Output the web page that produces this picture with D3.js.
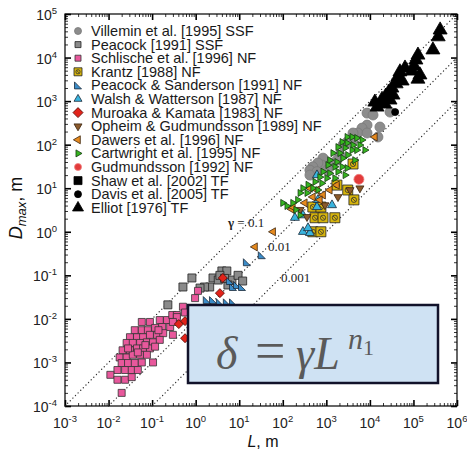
<!DOCTYPE html>
<html>
<head>
<meta charset="utf-8">
<script src="https://cdn.jsdelivr.net/npm/d3@7"></script>
<style>
  body { margin: 0; background: #fff; }
  text { font-family: "Liberation Sans", Arial, sans-serif; }
  text.serif, text.serif tspan { font-family: "Liberation Serif", "DejaVu Serif", serif; }
  tspan.sans { font-family: "Liberation Sans", Arial, sans-serif; }
</style>
</head>
<body>
<div id="chart"></div>
<script>
// fault data as [L, Dmax] in metres
var villemin = [[8600,530],[11800,480],[29000,560],[17000,254],[8600,282],[6600,240],[5300,185],[8600,185],
  [4100,185],[15300,150],[4100,128],[3000,115],[2400,98],[2050,58],[1750,44],[1200,38],[840,49],[790,34],
  [640,38],[490,31],[420,26],[610,24],[1050,26],[420,20]];
var peacock = [[0.82,0.087],[0.51,0.054],[0.23,0.021],[2.5,0.087],[4.0,0.126],[5.2,0.126],[6.8,0.078],
  [9.4,0.1],[5.5,0.06],[2.1,0.054],[1.6,0.054],[1.26,0.051],[3.3,0.078],[12,0.074],[3.6,0.1],[4.6,0.085]];
var schlische = [[0.058,0.0085],[0.089,0.0085],[0.15,0.0094],[0.22,0.0094],[0.29,0.0123],[0.37,0.0123],
  [0.51,0.019],[0.57,0.014],[0.040,0.0055],[0.058,0.0055],[0.080,0.0055],[0.117,0.0062],[0.17,0.0065],
  [0.26,0.0065],[0.031,0.0038],[0.045,0.0038],[0.062,0.0038],[0.089,0.0043],[0.13,0.0043],[0.18,0.0047],
  [0.30,0.0043],[0.026,0.0028],[0.036,0.0028],[0.053,0.0028],[0.076,0.0029],[0.105,0.0029],[0.15,0.0033],
  [0.021,0.0019],[0.031,0.0019],[0.045,0.0021],[0.062,0.0021],[0.089,0.0021],[0.117,0.0023],[0.018,0.0013],
  [0.026,0.0013],[0.036,0.0015],[0.053,0.0015],[0.076,0.0015],[0.105,0.001],[0.020,0.00097],[0.028,0.00097],
  [0.040,0.00097],[0.058,0.001],[0.016,0.00067],[0.024,0.00067],[0.034,0.00067],[0.047,0.00067],
  [0.011,0.00052],[0.016,0.0004],[0.024,0.0004],[0.034,0.00046],[0.020,0.0002],[1.13,0.044],[0.97,0.030],
  [0.37,0.011],[0.30,0.0085],[0.07,0.0025],[0.047,0.0017],[0.028,0.0021],[0.14,0.0055]];
var krantz = [[4100,36],[1750,11.8],[3100,9.1],[4300,5.4],[490,3.7],[750,3.7],[550,2.1],[840,2.1],
  [1570,2.1],[490,1.0],[750,1.0]];
var peacockSanderson = [[15,0.2],[33,0.29],[7.2,0.054],[8.9,0.06],[11.6,0.054],[2.5,0.027],[3.6,0.024],
  [5.2,0.024],[7.2,0.024],[1.8,0.027],[6.1,0.074]];
var walsh = [[610,3.7],[190,2.1],[290,1.0],[420,0.94],[380,1.22],[1350,4.1],[290,2.4],[610,20],[640,5.4]];
var muroaka = [[4.2,0.087],[3.6,0.039],[0.57,0.0089],[0.41,0.0076],[0.57,0.0036]];
var opheim = [[5900,10],[3500,9.1],[360,2.2],[250,3.2],[930,4.1],[1850,6.3]];
var dawers = [[13000,150],[60,1.0],[23,0.45],[160,3.3],[420,10],[610,9.1],[840,7.0],[1200,9.1],
  [1750,11.8],[490,6.3],[170,3.7],[710,5.4],[320,4.6]];
var cartwright = [[3000,150],[3900,150],[5000,142],[6600,128],[2300,115],[3000,109],[4100,98],[5900,98],
  [1850,88],[2700,84],[3900,75],[5000,75],[2050,64],[1420,64],[3100,58],[2400,49],[1200,44],[1750,40],
  [1090,34],[1570,31],[2300,31],[3000,29],[840,24],[1200,22],[1850,24],[2700,20],[710,18],[1030,17],
  [1570,17],[550,14],[790,13],[380,12],[490,10],[290,10],[250,7.8],[360,7.8],[220,5.4],[170,4.6],
  [100,4.6],[125,3.9],[250,2.4],[200,3.2],[4500,44],[7700,75],[640,9.1]];
var gudmundsson = [[5600,16]];
var shaw = [];
var davis = [[38000,560]];
var elliot = [[410000,43000],[370000,30000],[280000,15000],[127000,11400],[114000,8800],[103000,6400],
  [93000,4900],[141000,4000],[127000,3200],[49000,4700],[44000,3600],[55000,2900],[40000,2500],
  [32000,2000],[27000,1600],[23000,1300],[19000,1100],[14600,730],[22000,855],[29000,1060],[13000,950],
  [34000,1380],[64000,5750]];

var seriesNames = ["Villemin et al. [1995] SSF", "Peacock [1991] SSF", "Schlische et al. [1996] NF",
  "Krantz [1988] NF", "Peacock & Sanderson [1991] NF", "Walsh & Watterson [1987] NF",
  "Muroaka & Kamata [1983] NF", "Opheim & Gudmundsson [1989] NF", "Dawers et al. [1996] NF",
  "Cartwright et al. [1995] NF", "Gudmundsson [1992] NF", "Shaw et al. [2002] TF",
  "Davis et al. [2005] TF", "Elliot [1976] TF"];
var seriesData = [villemin, peacock, schlische, krantz, peacockSanderson, walsh, muroaka, opheim,
  dawers, cartwright, gudmundsson, shaw, davis, elliot];

var gammas = [0.1, 0.01, 0.001];
var xTickExp = [-3, -2, -1, 0, 1, 2, 3, 4, 5, 6];
var yTickExp = [-4, -3, -2, -1, 0, 1, 2, 3, 4, 5];

// marker look per series, in legend order
var styles = [
  {shape: "circle",  fill: "#8c8c8c", stroke: "#7a7a7a", size: 10, lsize: 7},
  {shape: "square",  fill: "#8a8a8a", stroke: "#222",    size: 8,  lsize: 6},
  {shape: "square",  fill: "#e8589c", stroke: "#333",    size: 7,  lsize: 6},
  {shape: "krantz",  fill: "#d6b40c", stroke: "#222",    size: 10, lsize: 8},
  {shape: "rtri",    fill: "#3b8cc8", stroke: "#1a2a3a", size: 7,  lsize: 7},
  {shape: "triUp",   fill: "#39b4de", stroke: "#1a2a3a", size: 9,  lsize: 8},
  {shape: "diamond", fill: "#e2231a", stroke: "#5a0a05", size: 9,  lsize: 10},
  {shape: "triDown", fill: "#8b5a2b", stroke: "#3a2510", size: 8,  lsize: 8},
  {shape: "triLeft", fill: "#e68a1e", stroke: "#3a2510", size: 8,  lsize: 8},
  {shape: "triRight",fill: "#35b41f", stroke: "#143a10", size: 7,  lsize: 7},
  {shape: "circle",  fill: "#e23b3b", stroke: "#f08080", size: 10, lsize: 7},
  {shape: "square",  fill: "#000",    stroke: "#000",    size: 8,  lsize: 8},
  {shape: "circle",  fill: "#000",    stroke: "#000",    size: 7,  lsize: 7},
  {shape: "triUp",   fill: "#000",    stroke: "#000",    size: 14, lsize: 11}
];

var margin = {top: 14, right: 10, bottom: 49, left: 65};
var width = 392, height = 392;

var svg = d3.select("#chart").append("svg")
  .attr("width", width + margin.left + margin.right)
  .attr("height", height + margin.top + margin.bottom);
var g = svg.append("g")
  .attr("transform", "translate(" + margin.left + "," + margin.top + ")");

var x = d3.scaleLog().domain([1e-3, 1e6]).range([0, width]);
var y = d3.scaleLog().domain([1e-4, 1e5]).range([height, 0]);

function minorTicks(exps) {
  var out = [];
  for (var i = 0; i < exps.length - 1; i++)
    for (var k = 2; k <= 9; k++) out.push(k * Math.pow(10, exps[i]));
  return out;
}
var xMajor = xTickExp.map(function(e) { return Math.pow(10, e); });
var yMajor = yTickExp.map(function(e) { return Math.pow(10, e); });

function styleAxis(sel, w) {
  sel.select(".domain").remove();
  sel.selectAll(".tick line").attr("stroke", "#000").attr("stroke-width", w);
}

// inward ticks on all four sides
[[d3.axisBottom(x), "translate(0," + height + ")", xMajor, xTickExp],
 [d3.axisTop(x), null, xMajor, xTickExp],
 [d3.axisLeft(y), null, yMajor, yTickExp],
 [d3.axisRight(y), "translate(" + width + ",0)", yMajor, yTickExp]].forEach(function(a) {
  var gMinor = g.append("g").attr("transform", a[1]);
  gMinor.call(a[0].tickValues(minorTicks(a[3])).tickSize(-3).tickSizeOuter(0).tickFormat(""));
  styleAxis(gMinor, 0.8);
  var gMaj = g.append("g").attr("transform", a[1]);
  gMaj.call(a[0].tickValues(a[2]).tickSize(-6).tickSizeOuter(0).tickFormat(""));
  styleAxis(gMaj, 1.6);
});

// tick labels 10^n
var xl = g.append("g").selectAll("text").data(xTickExp).enter().append("text")
  .attr("x", function(d) { return x(Math.pow(10, d)); })
  .attr("y", height + 22)
  .attr("text-anchor", "middle")
  .attr("font-size", 14).attr("fill", "#222");
xl.append("tspan").text("10");
xl.append("tspan").attr("dy", -6).attr("font-size", 9.5).text(function(d) { return d; });

var yl = g.append("g").selectAll("text").data(yTickExp).enter().append("text")
  .attr("x", -8)
  .attr("y", function(d) { return y(Math.pow(10, d)) + 6; })
  .attr("text-anchor", "end")
  .attr("font-size", 14).attr("fill", "#222");
yl.append("tspan").text("10");
yl.append("tspan").attr("dy", -6).attr("font-size", 9.5).text(function(d) { return d; });

// frame
g.append("rect").attr("width", width).attr("height", height)
  .attr("fill", "none").attr("stroke", "#000").attr("stroke-width", 1.2);

// gamma reference lines D = gamma * L
var line = d3.line().x(function(d) { return x(d[0]); }).y(function(d) { return y(d[1]); });
gammas.forEach(function(gm) {
  var l0 = Math.max(1e-3, 1e-4 / gm), l1 = Math.min(1e6, 1e5 / gm);
  g.append("path").attr("d", line([[l0, gm * l0], [l1, gm * l1]]))
    .attr("fill", "none").attr("stroke", "#333").attr("stroke-width", 1.3)
    .attr("stroke-linecap", "round").attr("stroke-dasharray", "0.1,3.6");
});

function markerPath(shape, s) {
  var tri = d3.symbol().type(d3.symbolTriangle).size(0.433 * s * s)();
  switch (shape) {
    case "circle": return {d: d3.symbol().type(d3.symbolCircle).size(Math.PI * s * s / 4)(), rot: 0};
    case "square": case "krantz": return {d: d3.symbol().type(d3.symbolSquare).size(s * s)(), rot: 0};
    case "diamond": return {d: d3.symbol().type(d3.symbolSquare).size(s * s / 2)(), rot: 45};
    case "triUp": return {d: tri, rot: 0};
    case "triDown": return {d: tri, rot: 180};
    case "triLeft": return {d: tri, rot: -90};
    case "triRight": return {d: tri, rot: 90};
    case "rtri": var h = s / 2; return {d: "M" + (-h) + "," + h + "L" + h + "," + h + "L" + (-h) + "," + (-h) + "Z", rot: 0};
  }
}

function drawMarker(sel, st, s) {
  var m = markerPath(st.shape, s);
  sel.append("path").attr("d", m.d)
    .attr("transform", "rotate(" + m.rot + ")")
    .attr("fill", st.fill).attr("stroke", st.stroke).attr("stroke-width", 0.8);
  if (st.shape === "krantz") {
    sel.append("circle").attr("r", s * 0.26).attr("fill", "none")
      .attr("stroke", "#333").attr("stroke-width", 0.8);
    sel.append("path").attr("d", "M" + (-s * 0.18) + "," + (-s * 0.18) + "L" + (s * 0.18) + "," + (s * 0.18))
      .attr("stroke", "#333").attr("stroke-width", 0.8);
  }
}

seriesData.forEach(function(data, i) {
  var st = styles[i];
  g.append("g").selectAll("g").data(data).enter().append("g")
    .attr("transform", function(d) { return "translate(" + x(d[0]) + "," + y(d[1]) + ")"; })
    .each(function() { drawMarker(d3.select(this), st, st.size); });
});

// legend
var legend = g.append("g").attr("transform", "translate(13,17)");
seriesNames.forEach(function(name, i) {
  var row = legend.append("g").attr("transform", "translate(0," + (i * 13.6) + ")");
  drawMarker(row, styles[i], styles[i].lsize);
  row.append("text").attr("x", 13).attr("y", 5).attr("font-size", 14.5)
    .attr("fill", "#1a1a1a").text(name);
});

// gamma labels
var gl = g.append("g").attr("font-size", 13).attr("fill", "#222");
var t1 = gl.append("text").attr("class", "serif").attr("x", 163).attr("y", 213);
t1.append("tspan").attr("class", "sans").attr("font-weight", "bold").text("γ");
t1.append("tspan").text(" = 0.1");
gl.append("text").attr("class", "serif").attr("x", 203).attr("y", 237).text("0.01");
gl.append("text").attr("class", "serif").attr("x", 216).attr("y", 268).text("0.001");

// axis titles
var yt = svg.append("text").attr("transform", "translate(22,208) rotate(-90)")
  .attr("text-anchor", "middle").attr("font-size", 18).attr("fill", "#111");
yt.append("tspan").attr("font-style", "italic").text("D");
yt.append("tspan").attr("font-style", "italic").attr("font-size", 13).attr("dy", 4).text("max");
yt.append("tspan").attr("dy", -4).text(", m");

var xt = svg.append("text").attr("x", 263).attr("y", 447)
  .attr("text-anchor", "middle").attr("font-size", 16).attr("fill", "#111");
xt.append("tspan").attr("font-style", "italic").text("L");
xt.append("tspan").text(", m");

// formula box
var box = svg.append("g");
box.append("rect").attr("x", 188).attr("y", 305).attr("width", 250).attr("height", 78)
  .attr("fill", "#cfe2f3").attr("stroke", "#12122a").attr("stroke-width", 2.5);
var f = box.append("text").attr("class", "serif").attr("y", 369)
  .attr("font-size", 46).attr("fill", "#5a5a5a");
f.append("tspan").attr("x", 216).attr("font-style", "italic").text("δ");
f.append("tspan").attr("x", 255).attr("font-size", 54).text("=");
f.append("tspan").attr("x", 296).attr("font-style", "italic").text("γL");
f.append("tspan").attr("x", 348).attr("dy", -20).attr("font-size", 30).attr("font-style", "italic").text("n");
f.append("tspan").attr("dy", 6).attr("font-size", 22).text("1");
</script>
</body>
</html>
